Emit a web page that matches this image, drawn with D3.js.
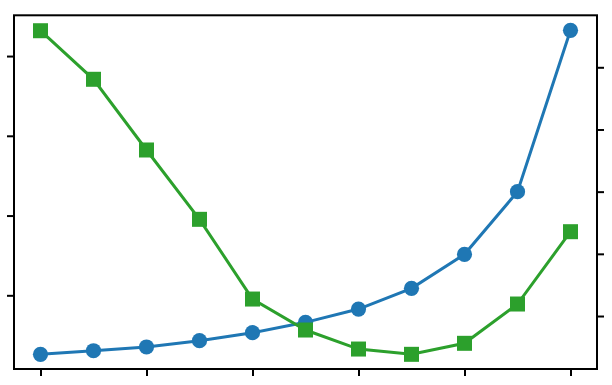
<!DOCTYPE html>
<html lang="en">
    <head>
        <meta charset="utf-8">
        <title>Two series, twin y axes</title>
        <script src="https://cdn.jsdelivr.net/npm/d3@7"></script>
        <style type="text/css">
            body {
                margin: 0;
                background: #fff;
            }
            .axis path, .axis line {
                stroke: #000;
                stroke-width: 2px;
            }
        </style>
    </head>
    <body>
        <script type="text/javascript">

            var width = 612;
            var height = 385;

            // x positions (index) and the two series
            var xs = [0, 1, 2, 3, 4, 5, 6, 7, 8, 9, 10];
            var blueVals = [0.26, 0.305, 0.352, 0.431, 0.531, 0.661, 0.828, 1.088, 1.514, 2.299, 4.323];
            var greenVals = [5.588, 4.807, 3.670, 2.555, 1.273, 0.775, 0.469, 0.384, 0.561, 1.193, 2.356];

            // tick positions (labels are hidden in the original)
            var xTicks = [0, 2, 4, 6, 8, 10];
            var leftTicks = [1, 2, 3, 4];
            var rightTicks = [1, 2, 3, 4, 5];

            var frame = {left: 14, right: 597, top: 15.3, bottom: 369};

            var x = d3.scaleLinear().domain([-0.5, 10.5]).range([frame.left, frame.right]);
            var yLeft = d3.scaleLinear().domain([0.076, 4.511]).range([frame.bottom, frame.top]);
            var yRight = d3.scaleLinear().domain([0.148, 5.836]).range([frame.bottom, frame.top]);

            var svg = d3.select("body").append("svg")
                .attr("width", width).attr("height", height);

            // frame
            svg.append("rect")
                .attr("x", frame.left).attr("y", frame.top)
                .attr("width", frame.right - frame.left)
                .attr("height", frame.bottom - frame.top)
                .style("fill", "none").style("stroke", "#000").style("stroke-width", 2);

            svg.append("g").attr("class", "axis")
                .attr("transform", "translate(0," + frame.bottom + ")")
                .call(d3.axisBottom(x).tickValues(xTicks).tickSize(7).tickFormat(""))
                .select(".domain").remove();

            svg.append("g").attr("class", "axis")
                .attr("transform", "translate(" + frame.left + ",0)")
                .call(d3.axisLeft(yLeft).tickValues(leftTicks).tickSize(7).tickFormat(""))
                .select(".domain").remove();

            svg.append("g").attr("class", "axis")
                .attr("transform", "translate(" + frame.right + ",0)")
                .call(d3.axisRight(yRight).tickValues(rightTicks).tickSize(7).tickFormat(""))
                .select(".domain").remove();

            // blue series (left axis)
            var blueLine = d3.line()
                .x(function(d, i) { return x(xs[i]); })
                .y(function(d) { return yLeft(d); });

            svg.append("path").datum(blueVals)
                .attr("d", blueLine)
                .style("fill", "none").style("stroke", "#1f77b4").style("stroke-width", 3);

            svg.selectAll("circle.blue").data(blueVals).enter().append("circle")
                .attr("class", "blue")
                .attr("cx", function(d, i) { return x(xs[i]); })
                .attr("cy", function(d) { return yLeft(d); })
                .attr("r", 7.6)
                .style("fill", "#1f77b4");

            // green series (right axis), drawn on top
            var greenLine = d3.line()
                .x(function(d, i) { return x(xs[i]); })
                .y(function(d) { return yRight(d); });

            svg.append("path").datum(greenVals)
                .attr("d", greenLine)
                .style("fill", "none").style("stroke", "#2ca02c").style("stroke-width", 3);

            var sq = 15;
            svg.selectAll("rect.green").data(greenVals).enter().append("rect")
                .attr("class", "green")
                .attr("x", function(d, i) { return x(xs[i]) - sq / 2; })
                .attr("y", function(d) { return yRight(d) - sq / 2; })
                .attr("width", sq).attr("height", sq)
                .style("fill", "#2ca02c");

        </script>
    </body>
</html>
